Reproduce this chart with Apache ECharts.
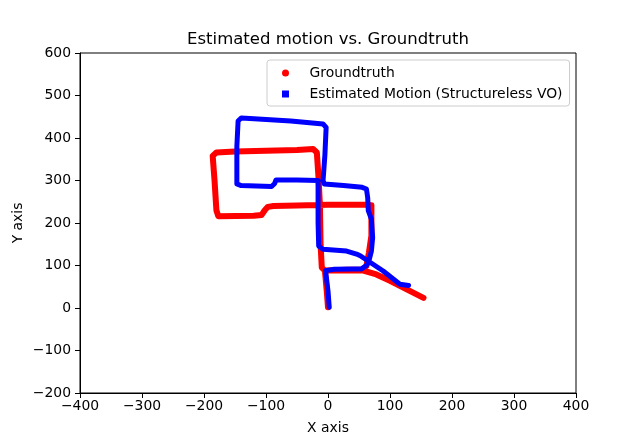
<!DOCTYPE html>
<html>
<head>
<meta charset="utf-8">
<script src="https://cdn.jsdelivr.net/npm/echarts@6/dist/echarts.min.js"></script>
<style>
  html, body { margin: 0; padding: 0; background: #fff; }
  #chart { width: 640px; height: 441px; }
</style>
</head>
<body>
<div id="chart"></div>
<script>
var gtX = [0, -2, -5, 10, 30, 55, 62, 66, 70, 70, 70, 60, 0, -50, -88, -97, -102, -107, -120, -177, -180, -183, -186, -180, -150, -100, -50, -24, -18, -15, -13, -12, -10, -5, 30, 57, 78, 100, 127, 154];
var gtY = [2, 40, 88, 89, 90, 90, 99, 130, 170, 210, 242, 243, 243, 241, 240, 238, 230, 219, 217, 216, 230, 300, 358, 366, 368, 370, 372, 374, 366, 300, 240, 150, 95, 88, 89, 88, 79, 64, 44, 24];

// estimated motion path
var estX = [2, 0, -4, 10, 40, 54, 62, 66, 70, 72, 70, 65, 64, 62, 55, 25, -6, -8, -5, -3, -8, -60, -126, -140, -145, -147, -147, -140, -91, -86, -84, -50, -16, -16, -16, -15, -8, 30, 46, 52, 89, 116, 130];
var estY = [2, 40, 88, 91, 92, 92, 100, 111, 134, 166, 209, 229, 260, 280, 284, 288, 292, 300, 360, 425, 433, 440, 446, 447, 440, 380, 292, 288, 286, 293, 301, 301, 300, 250, 200, 146, 138, 134, 127, 123, 87, 56, 53];

var xTicks = [-400, 400, 100];
var yTicks = [-200, 600, 100];

function pairs(xs, ys) {
    var out = [];
    for (var i = 0; i < xs.length; i++) out.push([xs[i], ys[i]]);
    return out;
}

var myChart = echarts.init(document.getElementById('chart'));
var font = 'DejaVu Sans';
var option = {
    animation: false,
    backgroundColor: '#fff',
    textStyle: { fontFamily: font },
    title: {
        text: 'Estimated motion vs. Groundtruth',
        left: 328,
        top: 31,
        padding: 0,
        textAlign: 'center',
        textStyle: { fontFamily: font, fontSize: 16.5, fontWeight: 'normal', color: '#000' }
    },
    legend: {
        orient: 'vertical',
        left: 267,
        top: 60,
        padding: [5, 7, 4, 15],
        itemWidth: 36,
        itemHeight: 7,
        itemGap: 5,
        borderColor: '#ccc',
        borderWidth: 1,
        borderRadius: 3,
        backgroundColor: '#fff',
        textStyle: { fontFamily: font, fontSize: 13.9, color: '#000', lineHeight: 16, padding: [0, 0, 0, 1] },
        data: [
            { name: 'Groundtruth', icon: 'circle' },
            { name: 'Estimated Motion (Structureless VO)', icon: 'path://M0,0L1,0L1,1L0,1Z' }
        ]
    },
    grid: {
        left: 80,
        right: 64,
        top: 53,
        bottom: 48,
        show: true,
        borderColor: '#000',
        borderWidth: 1,
        containLabel: false
    },
    xAxis: {
        type: 'value',
        min: xTicks[0],
        max: xTicks[1],
        interval: xTicks[2],
        name: 'X axis',
        nameLocation: 'middle',
        nameGap: 28,
        nameTextStyle: { fontFamily: font, fontSize: 13.9, color: '#000' },
        splitLine: { show: false },
        axisLine: { show: true, onZero: false, lineStyle: { color: '#000', width: 1 } },
        axisTick: { show: true, inside: false, length: 5, lineStyle: { color: '#000' } },
        axisLabel: {
            margin: 6, color: '#000', fontFamily: font, fontSize: 13.9,
            formatter: function (v) { return String(v).replace('-', '\u2212'); }
        }
    },
    yAxis: {
        type: 'value',
        min: yTicks[0],
        max: yTicks[1],
        interval: yTicks[2],
        name: 'Y axis',
        nameLocation: 'middle',
        nameGap: 55,
        nameMoveOverlap: false,
        nameTextStyle: { fontFamily: font, fontSize: 13.9, color: '#000' },
        splitLine: { show: false },
        axisLine: { show: true, onZero: false, lineStyle: { color: '#000', width: 1 } },
        axisTick: { show: true, inside: false, length: 5, lineStyle: { color: '#000' } },
        axisLabel: {
            margin: 9, color: '#000', fontFamily: font, fontSize: 13.9,
            formatter: function (v) { return String(v).replace('-', '\u2212'); }
        }
    },
    series: [
        {
            name: 'Groundtruth',
            type: 'line',
            data: pairs(gtX, gtY),
            showSymbol: false,
            symbol: 'none',
            color: '#ff0000',
            lineStyle: { color: '#ff0000', width: 6, cap: 'round', join: 'round' },
            z: 2
        },
        {
            name: 'Estimated Motion (Structureless VO)',
            type: 'line',
            data: pairs(estX, estY),
            showSymbol: false,
            symbol: 'none',
            color: '#0000ff',
            lineStyle: { color: '#0000ff', width: 5, cap: 'round', join: 'round' },
            z: 3
        }
    ]
};
myChart.setOption(option);
</script>
</body>
</html>
